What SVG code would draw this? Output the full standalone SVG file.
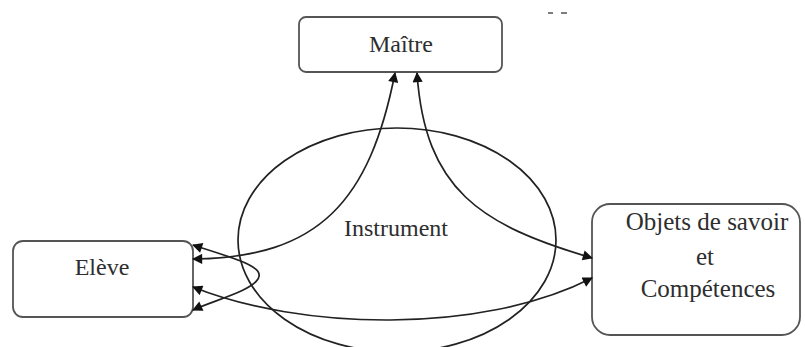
<svg xmlns="http://www.w3.org/2000/svg" width="805" height="347" viewBox="0 0 805 347">
  <style>
    .box { fill: #ffffff; stroke: #555555; stroke-width: 1.8; }
    .label { font-family: "Liberation Serif", "Times New Roman", serif; font-size: 24px; fill: #2e2e2e; text-anchor: middle; }
    .big { font-size: 25px; }
    .link { fill: none; stroke: #222222; stroke-width: 1.7; marker-start: url(#head); marker-end: url(#head); }
    .ring { fill: none; stroke: #222222; stroke-width: 1.7; }
  </style>
  <defs>
    <marker id="head" viewBox="0 0 10 10" refX="9" refY="5" markerWidth="7" markerHeight="6" orient="auto-start-reverse" markerUnits="strokeWidth">
      <path d="M0,0 L10,5 L0,10 z" fill="#111111"/>
    </marker>
  </defs>
  <rect width="805" height="347" fill="#ffffff"/>

  <!-- stray marks near the top edge -->
  <g id="marks" stroke="#444444" stroke-width="1.4">
    <line x1="548" y1="13" x2="553" y2="13"/>
    <line x1="561" y1="13" x2="567" y2="13"/>
  </g>

  <!-- central instrument ellipse -->
  <g id="instrument">
    <ellipse class="ring" cx="397" cy="240" rx="159" ry="112"/>
    <text class="label" x="396" y="236">Instrument</text>
  </g>

  <g id="maitre">
    <rect class="box" x="299" y="17" width="203" height="55" rx="7"/>
    <text class="label" x="401" y="52">Maître</text>
  </g>

  <g id="eleve">
    <rect class="box" x="13" y="241" width="180" height="76" rx="10"/>
    <text class="label" x="102" y="275">Elève</text>
  </g>

  <g id="objets">
    <rect class="box" x="592" y="204" width="208" height="131" rx="18"/>
    <text class="label big" x="707" y="230">Objets de savoir</text>
    <text class="label big" x="705" y="265">et</text>
    <text class="label big" x="708" y="297">Compétences</text>
  </g>

  <g id="connectors">
    <!-- Elève <-> Maître -->
    <path class="link" d="M193,259 C320,258 370,200 395,73"/>
    <!-- Maître <-> Objets -->
    <path class="link" d="M417,73 C425,190 480,225 592,258"/>
    <!-- Elève <-> Objets -->
    <path class="link" d="M193,287 C300,330 480,335 592,278"/>
    <!-- Elève loop -->
    <path class="link" d="M193,245 C232,258 266,266 258,279 C251,291 215,300 193,310"/>
  </g>
</svg>
